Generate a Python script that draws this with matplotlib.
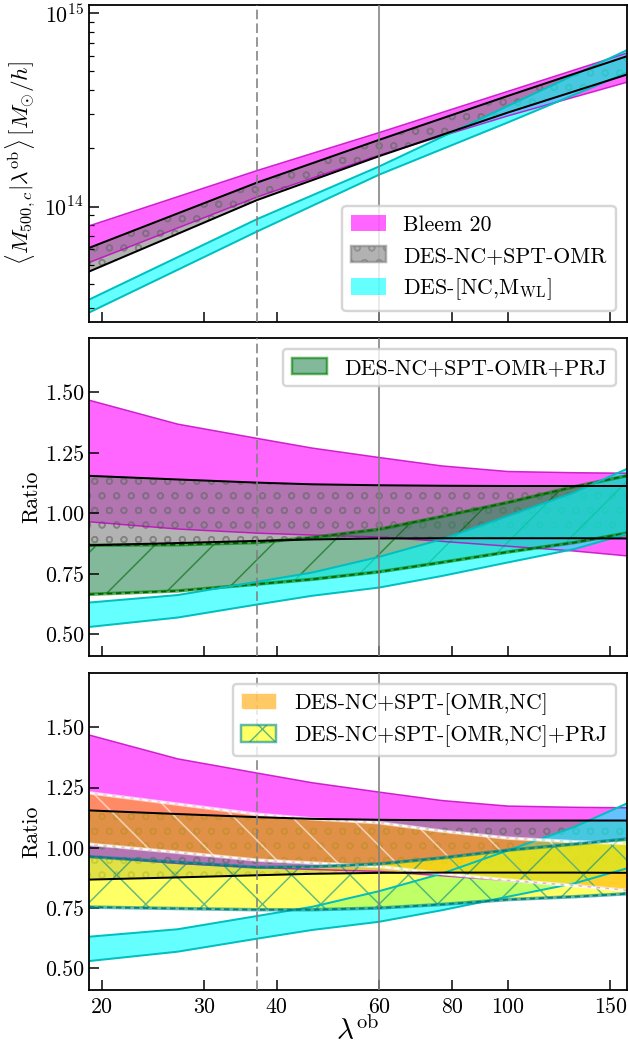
import numpy as np
import matplotlib
matplotlib.use("Agg")
import matplotlib.pyplot as plt
import matplotlib.patches as mpatches
from matplotlib.ticker import FixedLocator, FixedFormatter, NullFormatter, NullLocator, LogLocator

# figure is rendered at 175 dpi so that hatch spacing matches the original
DPI = 175
W, H = 628, 1047


def px(v):
    # pixels -> points
    return v * 72.0 / DPI


# ---------------- data ----------------
# top panel: <M500c | lambda_ob> in M_sun/h
lam_top = [19, 37, 60, 100, 160]
bleem_top_lo = [5.13e13, 1.12e14, 1.84e14, 2.94e14, 4.38e14]
bleem_top_hi = [7.94e13, 1.535e14, 2.41e14, 3.94e14, 6.20e14]
omr_top_lo = [4.61e13, 1.08e14, 1.82e14, 3.06e14, 4.80e14]
omr_top_hi = [6.11e13, 1.33e14, 2.21e14, 3.73e14, 5.97e14]
wl_top_lo = [2.83e13, 7.43e13, 1.46e14, 2.72e14, 4.90e14]
wl_top_hi = [3.30e13, 8.61e13, 1.61e14, 3.31e14, 6.41e14]

# ratio panels
lam_ratio = [19, 27, 37, 46, 60, 77, 100, 130, 160]
bleem_lo = [0.965, 0.935, 0.918, 0.910, 0.902, 0.884, 0.864, 0.844, 0.824]
bleem_hi = [1.468, 1.369, 1.310, 1.270, 1.231, 1.196, 1.173, 1.168, 1.166]
omr_lo = [0.868, 0.877, 0.886, 0.892, 0.896, 0.897, 0.897, 0.897, 0.896]
omr_hi = [1.155, 1.140, 1.127, 1.120, 1.116, 1.114, 1.113, 1.113, 1.113]
prj_lo = [0.665, 0.679, 0.707, 0.727, 0.758, 0.797, 0.840, 0.879, 0.918]
prj_hi = [0.868, 0.870, 0.879, 0.900, 0.934, 0.987, 1.045, 1.110, 1.155]
wl_lo = [0.530, 0.569, 0.623, 0.659, 0.693, 0.741, 0.797, 0.852, 0.914]
wl_hi = [0.631, 0.662, 0.717, 0.755, 0.820, 0.893, 0.989, 1.086, 1.183]
nc_lo = [1.015, 0.981, 0.949, 0.937, 0.922, 0.893, 0.866, 0.843, 0.823]
nc_hi = [1.228, 1.181, 1.139, 1.120, 1.104, 1.069, 1.040, 1.025, 1.018]
ncprj_lo = [0.754, 0.748, 0.743, 0.743, 0.750, 0.765, 0.785, 0.797, 0.809]
ncprj_hi = [0.963, 0.940, 0.919, 0.921, 0.933, 0.958, 0.990, 1.015, 1.036]

xticks = [20, 30, 40, 60, 80, 100, 150]
ratio_ticks = [0.50, 0.75, 1.00, 1.25, 1.50]
lam_cut = 37
lam_pivot = 60

# ---------------- style ----------------
plt.rcParams["font.family"] = "cmr10"
plt.rcParams["mathtext.fontset"] = "cm"
plt.rcParams["axes.formatter.use_mathtext"] = True
plt.rcParams["axes.linewidth"] = px(1.8)
plt.rcParams["hatch.linewidth"] = px(1.5)

FS = 9

fig = plt.figure(figsize=(W / DPI, H / DPI), dpi=DPI)
left = 89 / W
width = (626.5 - 89) / W
ax1 = fig.add_axes([left, (H - 322) / H, width, 317 / H])
ax2 = fig.add_axes([left, (H - 656) / H, width, 318 / H], sharex=ax1)
ax3 = fig.add_axes([left, (H - 990) / H, width, 317 / H], sharex=ax1)

A = 0.6
LW = px(2.0)


def band(ax, x, lo, hi, face, hatch=None, hcol="none", z=1):
    ax.fill_between(x, lo, hi, facecolor=face, edgecolor=hcol, hatch=hatch,
                    alpha=A, lw=0, zorder=z)


def edges(ax, x, lo, hi, **kw):
    ax.plot(x, lo, **kw)
    ax.plot(x, hi, **kw)


# --- top panel ---
band(ax1, lam_top, bleem_top_lo, bleem_top_hi, "magenta", z=1)
band(ax1, lam_top, omr_top_lo, omr_top_hi, "gray", "oo", "dimgray", z=1.1)
band(ax1, lam_top, wl_top_lo, wl_top_hi, "cyan", z=1.2)
edges(ax1, lam_top, bleem_top_lo, bleem_top_hi, color="m", lw=px(1.5), alpha=0.8, zorder=2)
edges(ax1, lam_top, wl_top_lo, wl_top_hi, color="c", lw=LW, zorder=2.1)
edges(ax1, lam_top, omr_top_lo, omr_top_hi, color="k", lw=LW, zorder=2.2)

# --- middle panel ---
band(ax2, lam_ratio, bleem_lo, bleem_hi, "magenta", z=1)
band(ax2, lam_ratio, omr_lo, omr_hi, "gray", "oo", "dimgray", z=1.1)
band(ax2, lam_ratio, prj_lo, prj_hi, "seagreen", "/", "darkgreen", z=1.2)
band(ax2, lam_ratio, wl_lo, wl_hi, "cyan", z=1.3)
edges(ax2, lam_ratio, bleem_lo, bleem_hi, color="m", lw=px(1.5), alpha=0.8, zorder=2)
edges(ax2, lam_ratio, prj_lo, prj_hi, color="green", lw=px(3.5), alpha=0.6, zorder=2.05)
edges(ax2, lam_ratio, prj_lo, prj_hi, color="darkgreen", lw=px(1.8), ls=(0, (3, 2)), zorder=2.06)
edges(ax2, lam_ratio, wl_lo, wl_hi, color="c", lw=LW, zorder=2.1)
edges(ax2, lam_ratio, omr_lo, omr_hi, color="k", lw=LW, zorder=2.2)

# --- bottom panel ---
band(ax3, lam_ratio, bleem_lo, bleem_hi, "magenta", z=1)
band(ax3, lam_ratio, omr_lo, omr_hi, "gray", "oo", "dimgray", z=1.1)
band(ax3, lam_ratio, wl_lo, wl_hi, "cyan", z=1.2)
band(ax3, lam_ratio, nc_lo, nc_hi, "orange", "\\", "white", z=1.3)
band(ax3, lam_ratio, ncprj_lo, ncprj_hi, "yellow", "x", "darkcyan", z=1.4)
edges(ax3, lam_ratio, bleem_lo, bleem_hi, color="m", lw=px(1.5), alpha=0.8, zorder=2)
edges(ax3, lam_ratio, wl_lo, wl_hi, color="c", lw=LW, zorder=2.1)
edges(ax3, lam_ratio, nc_lo, nc_hi, color="white", lw=px(3.5), alpha=0.6, zorder=2.15)
edges(ax3, lam_ratio, nc_lo, nc_hi, color="white", lw=px(1.8), ls=(0, (3, 2)), zorder=2.16)
edges(ax3, lam_ratio, ncprj_lo, ncprj_hi, color="darkcyan", lw=px(3.5), alpha=0.6, zorder=2.17)
edges(ax3, lam_ratio, ncprj_lo, ncprj_hi, color="teal", lw=px(1.8), ls=(0, (3, 2)), zorder=2.18)
edges(ax3, lam_ratio, omr_lo, omr_hi, color="k", lw=LW, zorder=2.2)

# --- common decorations ---
for ax in (ax1, ax2, ax3):
    ax.axvline(lam_cut, color="gray", lw=px(1.6), ls=(0, (6, 2.6)), zorder=4)
    ax.axvline(lam_pivot, color="gray", lw=px(1.6), zorder=4)
    ax.set_xscale("log")
    ax.tick_params(which="both", direction="in", labelsize=FS, top=False, right=False)
    ax.tick_params(which="major", length=px(10), width=px(1.5), pad=px(7))
    ax.tick_params(which="minor", length=px(5), width=px(1.2))

ax1.set_xlim(19, 160)
ax3.xaxis.set_major_locator(FixedLocator(xticks))
ax3.xaxis.set_major_formatter(FixedFormatter([str(t) for t in xticks]))
ax3.xaxis.set_minor_locator(NullLocator())
for ax in (ax1, ax2):
    plt.setp(ax.get_xticklabels(), visible=False)

ax1.set_yscale("log")
ax1.set_ylim(2.53e13, 1.1e15)
ax1.yaxis.set_major_locator(LogLocator(base=10))
ax1.yaxis.set_minor_locator(LogLocator(base=10, subs=np.arange(2, 10)))
ax1.yaxis.set_minor_formatter(NullFormatter())
ax1.tick_params(axis="y", pad=px(5))

for ax in (ax2, ax3):
    ax.set_ylim(0.41, 1.725)
    ax.yaxis.set_major_locator(FixedLocator(ratio_ticks))
    ax.yaxis.set_major_formatter(FixedFormatter(["%.2f" % t for t in ratio_ticks]))
    ax.tick_params(axis="y", pad=px(5))
    ax.set_ylabel("Ratio", fontsize=FS, labelpad=px(4))

ax1.set_ylabel(r"$\langle M_{500,c}|\lambda^{\mathrm{ob}}\rangle\,[M_{\odot}/h]$",
               fontsize=9.6, labelpad=px(6))
ax3.set_xlabel(r"$\lambda^{\mathrm{ob}}$", fontsize=12, labelpad=px(0))

# --- legends ---
p_bleem = mpatches.Patch(facecolor="magenta", alpha=A, lw=0, label="Bleem 20")
p_omr = mpatches.Patch(facecolor="gray", edgecolor="gray", hatch="oo", alpha=A,
                       lw=px(2.5), label="DES-NC+SPT-OMR")
p_wl = mpatches.Patch(facecolor="cyan", alpha=A, lw=0,
                      label=r"DES-[NC,$\mathrm{M_{WL}}$]")
p_prj = mpatches.Patch(facecolor="seagreen", edgecolor="green", hatch="/", alpha=A,
                       lw=px(2.5), label="DES-NC+SPT-OMR+PRJ")
p_nc = mpatches.Patch(facecolor="orange", edgecolor="white", hatch="\\", alpha=A,
                      lw=px(1.0), label="DES-NC+SPT-[OMR,NC]")
p_ncprj = mpatches.Patch(facecolor="yellow", edgecolor="darkcyan", hatch="x", alpha=A,
                         lw=px(2.5), label="DES-NC+SPT-[OMR,NC]+PRJ")

leg_kw = dict(fontsize=FS, handlelength=1.6, handleheight=0.8, framealpha=0.8,
              edgecolor="0.8", fancybox=True)
ax1.legend(handles=[p_bleem, p_omr, p_wl], loc="lower right", **leg_kw)
ax2.legend(handles=[p_prj], loc="upper right", **leg_kw)
ax3.legend(handles=[p_nc, p_ncprj], loc="upper right", **leg_kw)

fig.savefig("out.png", dpi=DPI)
